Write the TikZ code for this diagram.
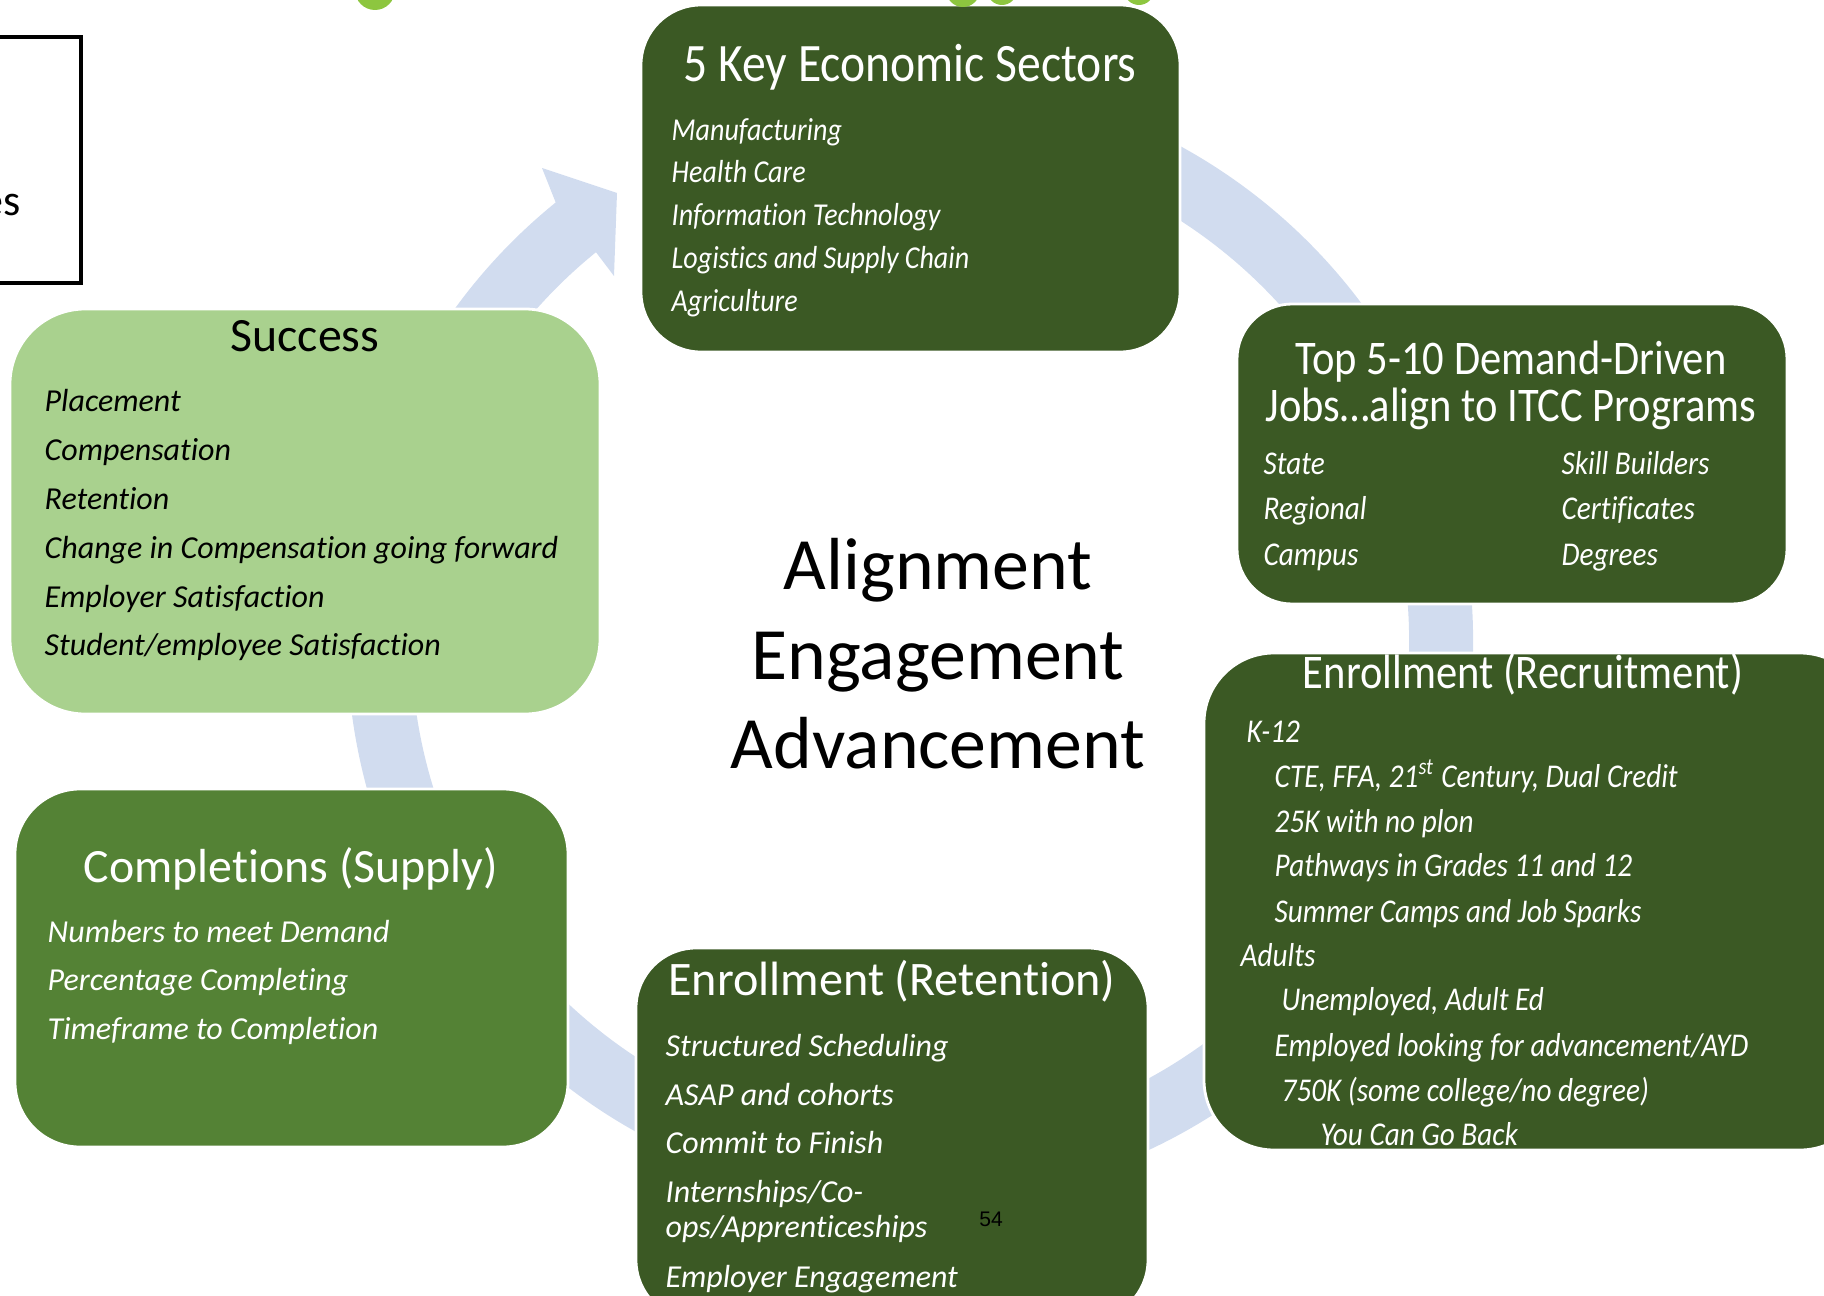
\documentclass[tikz,border=0pt]{standalone}
\usepackage{fontspec}
\setmainfont{Carlito}[Ligatures=NoCommon, Contextuals=NoAlternate]
\newfontfamily\narrowfont[FakeStretch=0.88, Ligatures=NoCommon, Contextuals=NoAlternate]{Carlito}
\newfontfamily\pagefont{Liberation Sans}
\usetikzlibrary{calc}
\definecolor{darkgreen}{HTML}{3B5924}
\definecolor{midgreen}{HTML}{548235}
\definecolor{lightgreen}{HTML}{A9D18E}
\definecolor{ringblue}{HTML}{D1DCEF}
\definecolor{dotgreen}{HTML}{8DC63F}
\tikzset{
  box/.style={draw=white, line width=0.8pt, inner sep=0pt},
  darkbox/.style={box, fill=darkgreen},
  head/.style={text=white, inner sep=0pt, text height=0.68em, text depth=0.22em, font=\fontsize{13.6}{16}\selectfont},
  narrowhead/.style={head, font=\narrowfont\fontsize{15.4}{16}\selectfont},
  twoline/.style={text=white, inner sep=0pt, align=center, font=\narrowfont\fontsize{13.75}{13.4}\selectfont},
  item/.style={anchor=west, text=white, inner sep=0pt, text height=0.68em, text depth=0.22em, font=\itshape\fontsize{9.1}{11}\selectfont},
  narrowitem/.style={item, font=\narrowfont\itshape\fontsize{9.45}{11}\selectfont},
  sectoritem/.style={item, font=\narrowfont\itshape\fontsize{9.07}{11}\selectfont},
  ringband/.style={draw=ringblue, line width=6.4mm},
}

\begin{document}
\begin{tikzpicture}
  \useasboundingbox (0,0) rectangle (18.24,-12.96);
  \clip (0,0) rectangle (18.24,-12.96);

  % cycle ring behind the boxes
  \coordinate (hub) at (9.10,-6.40);
  \draw[ringband] ($(hub)+(100:5.31)$) arc[start angle=100, end angle=-232, radius=5.31];
  \fill[ringblue] ($(hub)+(129:5.63)$) -- (5.42,-1.68) -- (6.17,-1.93) -- (6.14,-2.76)
    -- ($(hub)+(129:4.99)$) -- cycle;

  % boxes
  \node[darkbox, rounded corners=0.6cm, minimum width=5.39cm, minimum height=3.47cm] (sectors) at (9.105,-1.785) {};
  \node[darkbox, rounded corners=0.55cm, minimum width=5.50cm, minimum height=3.00cm] (jobs) at (15.12,-4.54) {};
  \node[darkbox, rounded corners=0.7cm, minimum width=6.66cm, minimum height=4.97cm] (recruit) at (15.37,-9.015) {};
  \node[darkbox, rounded corners=0.6cm, minimum width=5.12cm, minimum height=3.72cm] (retain) at (8.92,-11.34) {};
  \node[box, fill=midgreen, rounded corners=0.65cm, minimum width=5.53cm, minimum height=3.58cm] (supply) at (2.915,-9.68) {};
  \node[box, fill=lightgreen, rounded corners=0.75cm, minimum width=5.90cm, minimum height=4.05cm] (success) at (3.05,-5.115) {};

  % bits of shapes cut by the frame
  \draw[black, line width=1pt, fill=white] (-0.1,-0.37) rectangle (0.81,-2.83);
  \node[anchor=east, inner sep=0pt, font=\fontsize{12.5}{14}\selectfont] (cut) at (0.21,-2.05) {es};
  \foreach \x/\r in {3.75/0.2, 9.63/0.17, 10.02/0.15, 11.39/0.15}
    \fill[dotgreen] (\x,0.10) circle[radius=\r];

  % 5 key sectors
  \node[narrowhead] (sectorshead) at (9.10,-0.73) {5 Key Economic Sectors};
  \foreach \y/\t in {1.325/Manufacturing, 1.745/Health Care, 2.175/Information Technology,
                     2.605/Logistics and Supply Chain, 3.035/Agriculture}
    \node[sectoritem] at (6.71,-\y) {\t};

  % demand-driven jobs
  \node[twoline] (jobshead) at (15.11,-3.85) {Top 5-10 Demand-Driven\\Jobs…align to ITCC Programs};
  \foreach \y/\a/\b in {4.665/State/Skill Builders, 5.115/Regional/Certificates, 5.575/Campus/Degrees}{
    \node[narrowitem] at (12.63,-\y) {\a};
    \node[narrowitem] at (15.61,-\y) {\b};
  }

  % recruitment
  \node[narrowhead, font=\narrowfont\fontsize{13.76}{16}\selectfont] (recruithead) at (15.23,-6.80) {Enrollment (Recruitment)};
  \foreach \x/\y/\t in {12.46/7.345/K-12, 12.74/7.795/{CTE, FFA, 21\textsuperscript{st} Century, Dual Credit},
                        12.74/8.245/25K with no plon, 12.74/8.685/Pathways in Grades 11 and 12,
                        12.74/9.145/Summer Camps and Job Sparks, 12.40/9.585/Adults,
                        12.81/10.025/{Unemployed, Adult Ed}, 12.74/10.485/{Employed looking for advancement/AYD},
                        12.81/10.935/{750K (some college/no degree)}, 13.20/11.375/You Can Go Back}
    \node[narrowitem] at (\x,-\y) {\t};

  % retention
  \node[head, font=\fontsize{13.7}{16}\selectfont] (retainhead) at (8.92,-9.87) {Enrollment (Retention)};
  \foreach \y/\t in {10.485/Structured Scheduling, 10.975/ASAP and cohorts, 11.455/Commit to Finish,
                     11.945/{Internships/Co-}, 12.295/{ops/Apprenticeships}, 12.795/Employer Engagement}
    \node[item] at (6.65,-\y) {\t};
  \node[inner sep=0pt, font=\pagefont\fontsize{6}{7}\selectfont] (page) at (9.91,-12.19) {54};

  % completions
  \node[head] (supplyhead) at (2.91,-8.74) {Completions (Supply)};
  \foreach \y/\t in {9.345/Numbers to meet Demand, 9.825/Percentage Completing, 10.315/Timeframe to Completion}
    \node[item] at (0.47,-\y) {\t};

  % success
  \node[head, text=black] (successhead) at (3.05,-3.43) {Success};
  \foreach \y/\t in {4.035/Placement, 4.525/Compensation, 5.015/Retention,
                     5.505/Change in Compensation going forward, 5.995/Employer Satisfaction,
                     6.475/{Student/employee Satisfaction}}
    \node[item, text=black] at (0.44,-\y) {\t};

  % centre
  \node[align=center, inner sep=0pt, font=\fontsize{21}{25.5}\selectfont] (motto) at (9.38,-6.54)
    {Alignment\\Engagement\\Advancement};
\end{tikzpicture}
\end{document}
